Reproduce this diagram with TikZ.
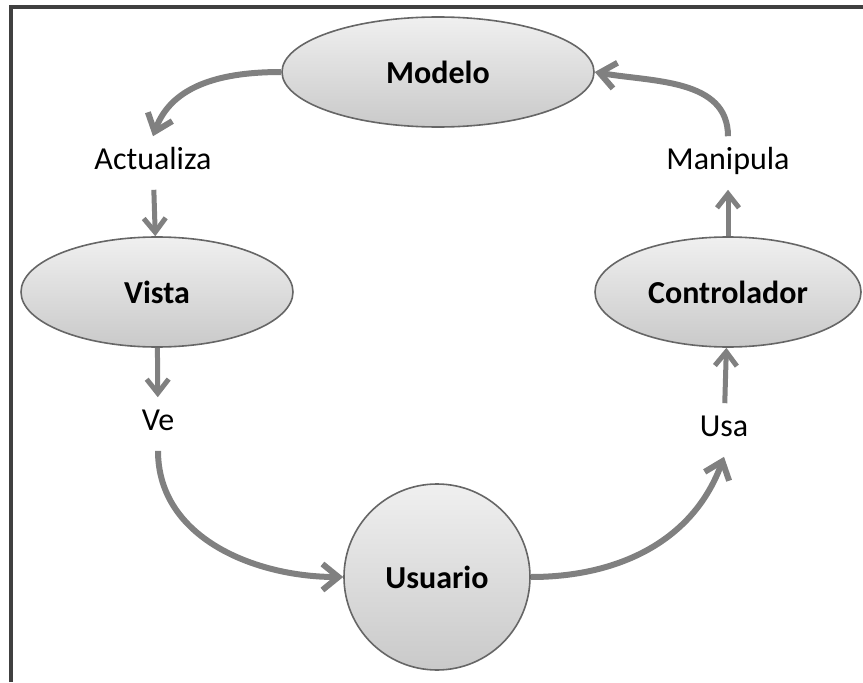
\documentclass[tikz,border=0pt]{standalone}
\usepackage{fontspec}
\setmainfont{Carlito}
\usetikzlibrary{arrows.meta, shapes.geometric}
\tikzset{
  every picture/.style={line width=0.8pt},
  every node/.style={font=\fontsize{16pt}{19pt}\selectfont},
  blob/.style={draw=black!60, line width=0.8pt, ellipse, inner sep=0pt,
    top color=black!6, bottom color=black!21, font=\fontsize{16pt}{19pt}\selectfont\bfseries},
  verb/.style={inner sep=0pt, minimum height=26pt, text height=0.64em, text depth=0pt},
  flow/.style={draw=black!50, line width=3pt, -{Straight Barb[length=8pt, width=13pt]}},
  shortflow/.style={draw=black!50, line width=2.5pt, -{Straight Barb[length=7pt, width=11pt]}},
  frame/.style={draw=black!75, line width=1.6pt}
}

\begin{document}
\begin{tikzpicture}[x=0.5pt, y=0.5pt]
    \useasboundingbox (0,0) rectangle (863,682);
    \draw[frame] (11,0) -- (11,675) -- (863,675);

    \node [blob, minimum width=156pt, minimum height=55pt] (modelo) at (438,610) {Modelo};
    \node [blob, minimum width=136pt, minimum height=55pt] (vista) at (157,390) {Vista};
    \node [blob, minimum width=133pt, minimum height=55pt] (ctrl) at (728,390) {Controlador};
    \node [blob, circle, minimum size=93pt] (usuario) at (437,105) {Usuario};

    \node [verb] (actualiza) at (153,519) {Actualiza};
    \node [verb] (manipula) at (728,519) {Manipula};
    \node [verb] (ve) at (158,258) {Ve};
    \node [verb] (usa) at (724,252) {Usa};

    \draw(modelo.west) edge[flow, out=180, in=70] (actualiza.north);
    \draw(actualiza) edge[shortflow] (vista);
    \draw(vista) edge[shortflow] (ve);
    \draw(ve.south) edge[flow, out=-90, in=180] (usuario.west);
    \draw(usuario.east) edge[flow, out=0, in=-110] (usa.south);
    \draw(usa) edge[shortflow] (ctrl);
    \draw(ctrl) edge[shortflow] (manipula);
    \draw(manipula.north) edge[flow, out=90, in=-10] (modelo.east);
\end{tikzpicture}
\end{document}
